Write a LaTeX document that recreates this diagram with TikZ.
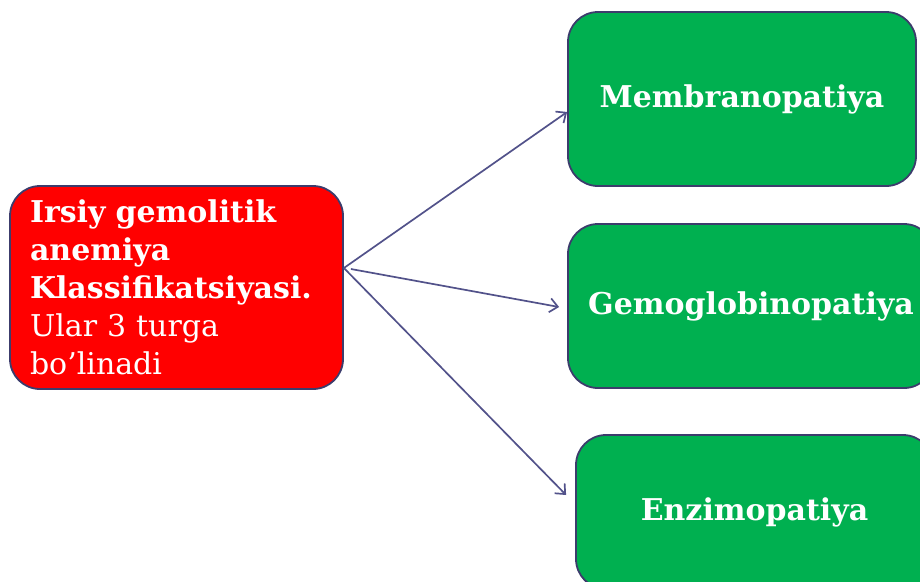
\documentclass[tikz,border=0pt]{standalone}
\usepackage{fontspec}
\setmainfont{DejaVu Serif}
\usetikzlibrary{arrows.meta,calc}
\definecolor{boxred}{HTML}{FF0000}
\definecolor{boxgreen}{HTML}{00B050}
\definecolor{edge}{HTML}{3C3C6C}
\definecolor{link}{HTML}{52528A}
\tikzset{
  card/.style={draw=edge, line width=1.8pt, rounded corners=30pt, text=white, inner sep=0pt},
  leaf/.style={card, fill=boxgreen, font=\fontsize{30}{36}\selectfont\bfseries},
  link/.style={draw=link, line width=1.7pt, -{Straight Barb[length=8pt,width=14pt,line width=1.7pt]}}
}
\begin{document}
\begin{tikzpicture}[x=1pt,y=-1pt]
\useasboundingbox (0,0) rectangle (920,581);
% source box
\node[card, fill=boxred, minimum width=333pt, minimum height=203pt,
      text width=293pt, align=left, font=\fontsize{30}{38}\selectfont]
  (src) at (176.5,287.5)
  {\textbf{Irsiy gemolitik}\\ \textbf{anemiya}\\ \textbf{Klassifikatsiyasi.}\\ Ular 3 turga\\ bo’linadi};
% three categories
\node[leaf, minimum width=348pt, minimum height=174pt] (m1) at (742,99) {\raisebox{-2pt}{Membranopatiya}};
\node[leaf, minimum width=366pt, minimum height=164pt] (m2) at (751,306) {Gemoglobinopatiya};
\node[leaf, minimum width=357pt, minimum height=154pt] (m3) at (754.5,512) {Enzimopatiya};
% connectors
\coordinate (o) at ($(src.east)+(0,-19.5)$);
\draw[link] (o) -- ($(m1.west)+(0,13)$);
\draw[link] ($(o)+(7,1)$) -- ($(m2.west)+(-8,1)$);
\draw[link] (o) -- ($(m3.west)+(-9,-17)$);
\end{tikzpicture}
\end{document}
